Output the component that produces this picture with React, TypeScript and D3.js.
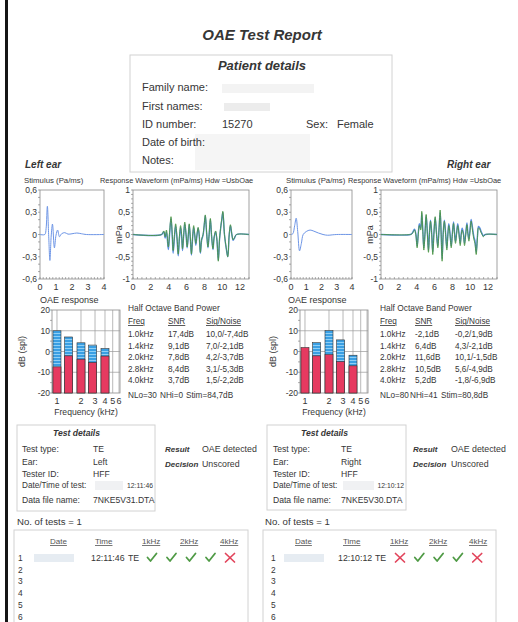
import React from 'react';
import * as d3 from 'd3';

const FONT = "'Liberation Sans', Arial, Helvetica, sans-serif";
const INK = '#363636';

// ---------- tick labels ----------
const stimXTicks = [0, 1, 2, 3, 4];
const stimYTicks = [0.6, 0.3, 0, -0.3, -0.6];
const stimYLabels = ['0,6', '0,3', '0', '-0,3', '-0,6'];
const respXTicks = [0, 2, 4, 6, 8, 10, 12];
const respYTicks = [1, 0.5, 0, -0.5, -1];
const respYLabels = ['1', '0,5', '0', '-0,5', '-1'];
const barYTicks = [20, 10, 0, -10, -20];
const barXTicks = [1, 2, 3, 4, 5, 6];

// ---------- half octave band data ----------
const bandFreqs = [1.0, 1.4, 2.0, 2.8, 4.0];
const bandLabels = ['1.0kHz', '1.4kHz', '2.0kHz', '2.8kHz', '4.0kHz'];
const leftSignal = [10.0, 7.0, 4.2, 3.1, 1.5];
const leftNoise = [-7.4, -2.1, -3.7, -5.3, -2.2];
const leftSNR = [17.4, 9.1, 7.8, 8.4, 3.7];
const rightSignal = [-0.2, 4.3, 10.1, 5.6, -1.8];
const rightNoise = [1.9, -2.1, -1.5, -4.9, -6.9];
const rightSNR = [-2.1, 6.4, 11.6, 10.5, 5.2];
const leftStats = ['NLo=30', 'NHi=0', 'Stim=84,7dB'];
const rightStats = ['NLo=80', 'NHi=41', 'Stim=80,8dB'];

// ---------- test results ----------
const testCols = ['Date', 'Time', '1kHz', '2kHz', '4kHz'];
const leftMarks = [true, true, true, true, false];
const rightMarks = [false, true, true, true, false];
const rowNumbers = [1, 2, 3, 4, 5, 6];

// ---------- waveforms [ms, value] ----------
const stimLeft: [number, number][] = [
  [0, 0], [0.3, 0], [0.38, 0.08], [0.46, 0.38], [0.54, 0.0], [0.62, -0.35], [0.7, -0.02],
  [0.78, 0.14], [0.9, -0.18], [1.0, -0.01], [1.1, 0.06], [1.22, -0.03], [1.35, 0.01],
  [1.55, 0.025], [1.75, 0.005], [2.0, 0.01], [2.3, 0.02], [2.6, 0.01], [2.9, 0], [4, 0],
];
const stimRight: [number, number][] = [
  [0, 0], [0.12, 0.01], [0.24, 0.12], [0.34, 0.22], [0.44, 0.04], [0.56, -0.22], [0.68, -0.12],
  [0.8, 0.0], [1.0, 0.04], [1.25, 0.06], [1.5, 0.045], [1.8, 0.02], [2.1, 0.0], [2.4, -0.01],
  [2.7, -0.005], [3.0, 0], [4, 0],
];
const respLeftGreen: [number, number][] = [
  [0, 0], [3.2, 0], [3.45, 0.08], [3.6, -0.05], [3.75, 0.1], [3.96, -0.28], [4.1, 0.05],
  [4.26, 0.4], [4.4, 0.0], [4.5, -0.36], [4.65, 0.0], [4.78, 0.24], [4.93, -0.05], [5.07, -0.44],
  [5.2, -0.05], [5.33, 0.2], [5.45, 0.0], [5.55, -0.32], [5.68, 0.0], [5.8, 0.28], [5.95, 0.0],
  [6.07, -0.28], [6.2, 0.0], [6.3, 0.24], [6.42, -0.05], [6.55, -0.44], [6.68, -0.05], [6.8, 0.2],
  [6.92, 0.0], [7.04, -0.2], [7.17, 0.0], [7.3, 0.16], [7.42, 0.0], [7.55, -0.4], [7.7, -0.1],
  [7.85, 0.0], [7.97, 0.2], [8.1, 0.44], [8.25, 0.05], [8.4, -0.28], [8.53, 0.0], [8.67, 0.36],
  [8.8, 0.0], [8.96, -0.32], [9.1, -0.05], [9.26, 0.08], [9.4, -0.1], [9.56, -0.6], [9.7, -0.1],
  [9.85, 0.2], [9.95, 0.35], [10.07, 0.52], [10.25, 0.0], [10.45, -0.3], [10.62, -0.5],
  [10.78, 0.0], [10.92, 0.22], [11.08, 0.0], [11.22, -0.12], [11.4, -0.06], [11.6, 0], [13, 0],
];
const respLeftBlue: [number, number][] = [
  [0, 0], [3.2, 0], [3.45, 0.06], [3.6, -0.08], [3.75, 0.06], [3.96, -0.34], [4.1, 0.0],
  [4.26, 0.36], [4.4, -0.05], [4.5, -0.42], [4.65, -0.05], [4.78, 0.2], [4.93, -0.1], [5.07, -0.48],
  [5.2, -0.1], [5.33, 0.16], [5.45, -0.05], [5.55, -0.36], [5.68, -0.02], [5.8, 0.24], [5.95, -0.02],
  [6.07, -0.3], [6.2, -0.02], [6.3, 0.22], [6.42, -0.08], [6.55, -0.46], [6.68, -0.08], [6.8, 0.16],
  [6.92, -0.02], [7.04, -0.24], [7.17, -0.02], [7.3, 0.14], [7.42, -0.02], [7.55, -0.42], [7.7, -0.12],
  [7.85, -0.02], [7.97, 0.18], [8.1, 0.42], [8.25, 0.03], [8.4, -0.3], [8.53, -0.02], [8.67, 0.34],
  [8.8, -0.02], [8.96, -0.34], [9.1, -0.06], [9.26, 0.06], [9.4, -0.12], [9.56, -0.58], [9.7, -0.1],
  [9.85, 0.18], [9.95, 0.33], [10.07, 0.5], [10.25, 0.0], [10.45, -0.32], [10.62, -0.5],
  [10.78, -0.02], [10.92, 0.2], [11.08, 0.0], [11.22, -0.13], [11.4, -0.07], [11.6, 0], [13, 0],
];
const respRightGreen: [number, number][] = [
  [0, 0], [3.3, 0], [3.5, 0.02], [3.75, 0.1], [3.9, 0.0], [4.05, -0.3], [4.18, 0.0], [4.3, 0.2],
  [4.45, 0.1], [4.57, 0.52], [4.7, 0.0], [4.8, -0.35], [4.93, 0.0], [5.06, 0.45], [5.2, 0.0],
  [5.32, -0.4], [5.43, 0.0], [5.55, 0.3], [5.68, 0.0], [5.8, -0.45], [5.93, 0.0], [6.07, 0.4],
  [6.22, 0.0], [6.37, -0.3], [6.5, 0.1], [6.63, 0.55], [6.74, 0.0], [6.85, -0.6], [6.97, 0.0],
  [7.1, 0.3], [7.24, 0.0], [7.38, -0.35], [7.5, 0.0], [7.6, 0.2], [7.73, 0.0], [7.87, -0.3],
  [8.0, 0.0], [8.13, 0.25], [8.24, 0.0], [8.35, -0.2], [8.47, 0.0], [8.6, 0.2], [8.74, 0.0],
  [8.88, -0.25], [9.0, 0.0], [9.1, 0.1], [9.23, 0.0], [9.36, -0.25], [9.5, 0.0], [9.63, 0.22],
  [9.74, 0.0], [9.85, -0.15], [9.97, 0.05], [10.1, 0.3], [10.25, 0.1], [10.4, -0.1], [10.53, -0.2],
  [10.67, -0.45], [10.8, -0.1], [10.93, 0.15], [11.07, 0.12], [11.2, 0.05], [11.33, 0.0],
  [11.46, -0.05], [11.7, 0], [13, 0],
];
const respRightBlue: [number, number][] = [
  [0, 0], [3.3, 0], [3.5, 0.03], [3.75, 0.12], [3.9, 0.02], [4.05, -0.26], [4.18, 0.04], [4.3, 0.24],
  [4.45, 0.14], [4.57, 0.48], [4.7, 0.04], [4.8, -0.3], [4.93, 0.04], [5.06, 0.42], [5.2, 0.04],
  [5.32, -0.36], [5.43, 0.04], [5.55, 0.32], [5.68, 0.04], [5.8, -0.4], [5.93, 0.04], [6.07, 0.38],
  [6.22, 0.04], [6.37, -0.26], [6.5, 0.12], [6.63, 0.5], [6.74, 0.04], [6.85, -0.55], [6.97, 0.04],
  [7.1, 0.32], [7.24, 0.04], [7.38, -0.3], [7.5, 0.04], [7.6, 0.24], [7.73, 0.04], [7.87, -0.26],
  [8.0, 0.04], [8.13, 0.28], [8.24, 0.04], [8.35, -0.16], [8.47, 0.04], [8.6, 0.24], [8.74, 0.04],
  [8.88, -0.2], [9.0, 0.04], [9.1, 0.14], [9.23, 0.04], [9.36, -0.2], [9.5, 0.04], [9.63, 0.26],
  [9.74, 0.04], [9.85, -0.1], [9.97, 0.1], [10.1, 0.34], [10.25, 0.16], [10.4, -0.04], [10.53, -0.14],
  [10.67, -0.4], [10.8, -0.06], [10.93, 0.18], [11.07, 0.15], [11.2, 0.08], [11.33, 0.02],
  [11.46, -0.03], [11.7, 0], [13, 0],
];

const fmt1 = (v: number) => v.toFixed(1).replace('.', ',');

type EarCfg = any;

const LEFT: EarCfg = {
  stim: { x0: 40, x1: 104, y0: 190, y1: 279 },
  resp: { x0: 133, x1: 249, y0: 190, y1: 279 },
  titleStimX: 24, titleRespX: 100, titleY: 183, mPaX: 122,
  bar: { x0: 52, x1: 120, y0: 310, y1: 393 },
  oaeTitleX: 40, dbX: 25,
  table: { x: 128, snrX: 168, snX: 206, statX: [128, 160, 186] },
  td: { x: 17, y: 425, w: 138, h: 86, titleX: 53, labelX: 22, valX: 93, timeEndX: 153, resX: 165, resValX: 202,
        ear: 'Left', time: '12:11:46', file: '7NKE5V31.DTA' },
  tests: { noX: 17, x: 14, w: 234, cols: [50, 95, 142, 180, 220], numX: 18, timeX: 91, teX: 128,
           markX0: 152, markDx: 19.5, time: '12:11:46', dateX: 34 },
};
const RIGHT: EarCfg = {
  stim: { x0: 291, x1: 352, y0: 190, y1: 279 },
  resp: { x0: 381, x1: 497, y0: 190, y1: 279 },
  titleStimX: 286, titleRespX: 348, titleY: 183, mPaX: 373,
  bar: { x0: 300, x1: 368, y0: 310, y1: 393 },
  oaeTitleX: 288, dbX: 276,
  table: { x: 380, snrX: 415, snX: 455, statX: [380, 410, 441] },
  td: { x: 267, y: 425, w: 139, h: 85, titleX: 301, labelX: 273, valX: 341, timeEndX: 404, resX: 413, resValX: 451,
        ear: 'Right', time: '12:10:12', file: '7NKE5V30.DTA' },
  tests: { noX: 265, x: 263, w: 233, cols: [295, 343, 390, 429, 469], numX: 271, timeX: 338, teX: 375,
           markX0: 400, markDx: 19.3, time: '12:10:12', dateX: 284 },
};

function Check({ x, y }: { x: number; y: number }) {
  return <path d={`M${x - 4.5},${y - 0.5} L${x - 1.5},${y + 3} L${x + 4.5},${y - 4.5}`} fill="none" stroke="#4f9a45" strokeWidth={1.8} strokeLinecap="round" strokeLinejoin="round" />;
}
function Cross({ x, y }: { x: number; y: number }) {
  return (
    <g stroke="#e2455c" strokeWidth={1.7} strokeLinecap="round">
      <line x1={x - 4.5} y1={y - 4.5} x2={x + 4.5} y2={y + 4} />
      <line x1={x + 4.5} y1={y - 4.5} x2={x - 4.5} y2={y + 4} />
    </g>
  );
}

function Ear({ c, stim, respG, respB, signal, noise, snr, stats, marks }: any) {
  const t = { fontFamily: FONT, fill: INK };
  const sx = d3.scaleLinear().domain([0, 4]).range([c.stim.x0, c.stim.x1]);
  const sy = d3.scaleLinear().domain([-0.6, 0.6]).range([c.stim.y1, c.stim.y0]);
  const sLine = d3.line<[number, number]>().x(d => sx(d[0])).y(d => sy(d[1])).curve(d3.curveCatmullRom.alpha(0.5));
  const rx = d3.scaleLinear().domain([0, 13]).range([c.resp.x0, c.resp.x1]);
  const ry = d3.scaleLinear().domain([-1, 1]).range([c.resp.y1, c.resp.y0]);
  const rLine = d3.line<[number, number]>().x(d => rx(d[0])).y(d => ry(d[1])).curve(d3.curveCatmullRom.alpha(0.5));
  const bx = d3.scaleLog().domain([0.866, 6.17]).range([c.bar.x0, c.bar.x1]);
  const by = d3.scaleLinear().domain([-20, 20]).range([c.bar.y1, c.bar.y0]);
  const half = Math.pow(2, 1 / 6);

  const stimMinorX = d3.range(0, 4.01, 0.2);
  const stimMinorY = d3.range(-0.6, 0.61, 0.1);
  const respMinorX = d3.range(0, 13.01, 0.5);
  const respMinorY = d3.range(-1, 1.01, 0.1);

  const rowsY = [337, 348.5, 360, 371.5, 383];
  const tdRows = [
    ['Test type:', 'TE', 452], ['Ear:', c.td.ear, 465], ['Tester ID:', 'HFF', 477],
  ];
  const TF = 8.2;

  return (
    <g>
      <text x={c.titleStimX} y={c.titleY} fontSize={7.8} {...t}>Stimulus (Pa/ms)</text>
      <text x={c.titleRespX} y={c.titleY} fontSize={7.4} {...t}>Response Waveform (mPa/ms) Hdw =UsbOae</text>

      {/* stimulus plot */}
      <rect x={c.stim.x0} y={c.stim.y0} width={c.stim.x1 - c.stim.x0} height={c.stim.y1 - c.stim.y0} fill="#fff" stroke="#8a8a8a" strokeWidth={0.8} />
      {stimMinorX.map((v, i) => <line key={'smx' + i} x1={sx(v)} x2={sx(v)} y1={c.stim.y1} y2={c.stim.y1 - 2} stroke="#777" strokeWidth={0.6} />)}
      {stimMinorY.map((v, i) => <line key={'smy' + i} x1={c.stim.x0} x2={c.stim.x0 - 2} y1={sy(v)} y2={sy(v)} stroke="#777" strokeWidth={0.6} />)}
      {stimXTicks.map(v => <text key={'sxt' + v} x={sx(v)} y={c.stim.y1 + 11} fontSize={9} textAnchor="middle" {...t}>{v}</text>)}
      {stimYTicks.map((v, i) => <text key={'syt' + v} x={c.stim.x0 - 3} y={sy(v) + 3} fontSize={8.5} textAnchor="end" {...t}>{stimYLabels[i]}</text>)}
      <path d={sLine(stim) || ''} fill="none" stroke="#6d95e6" strokeWidth={1} />

      {/* response plot */}
      <rect x={c.resp.x0} y={c.resp.y0} width={c.resp.x1 - c.resp.x0} height={c.resp.y1 - c.resp.y0} fill="#fff" stroke="#8a8a8a" strokeWidth={0.8} />
      {respMinorX.map((v, i) => <line key={'rmx' + i} x1={rx(v)} x2={rx(v)} y1={c.resp.y1} y2={c.resp.y1 - 2} stroke="#777" strokeWidth={0.6} />)}
      {respMinorY.map((v, i) => <line key={'rmy' + i} x1={c.resp.x0} x2={c.resp.x0 - 2} y1={ry(v)} y2={ry(v)} stroke="#777" strokeWidth={0.6} />)}
      {respXTicks.map(v => <text key={'rxt' + v} x={rx(v)} y={c.resp.y1 + 11} fontSize={9} textAnchor="middle" {...t}>{v}</text>)}
      {respYTicks.map((v, i) => <text key={'ryt' + v} x={c.resp.x0 - 3} y={ry(v) + 3} fontSize={8.5} textAnchor="end" {...t}>{respYLabels[i]}</text>)}
      <text transform={`translate(${c.mPaX},${ry(0)}) rotate(-90)`} fontSize={9} textAnchor="middle" {...t}>mPa</text>
      <path d={rLine(respB) || ''} fill="none" stroke="#5a8de2" strokeWidth={1.4} />
      <path d={rLine(respG) || ''} fill="none" stroke="#4a9440" strokeWidth={0.9} />

      {/* OAE response bars */}
      <text x={c.oaeTitleX} y={303} fontSize={9} {...t}>OAE response</text>
      <rect x={c.bar.x0} y={c.bar.y0} width={c.bar.x1 - c.bar.x0} height={c.bar.y1 - c.bar.y0} fill="#fff" stroke="#8a8a8a" strokeWidth={0.8} />
      {barXTicks.map(v => <line key={'bgx' + v} x1={bx(v)} x2={bx(v)} y1={c.bar.y0} y2={c.bar.y1} stroke="#9a9a9a" strokeWidth={0.7} />)}
      {[10, 0, -10].map(v => <line key={'bgy' + v} x1={c.bar.x0} x2={c.bar.x1} y1={by(v)} y2={by(v)} stroke="#9a9a9a" strokeWidth={0.7} />)}
      {d3.range(-20, 20.1, 5).map(v => <line key={'bmy' + v} x1={c.bar.x0} x2={c.bar.x0 - 2} y1={by(v)} y2={by(v)} stroke="#777" strokeWidth={0.6} />)}
      {bandFreqs.map((f, i) => (
        <rect key={'bs' + i} x={bx(f / half)} y={by(signal[i])} width={bx(f * half) - bx(f / half)} height={by(-20) - by(signal[i])} fill="url(#blueStripe)" stroke="#333" strokeWidth={0.6} />
      ))}
      {bandFreqs.map((f, i) => (
        <rect key={'bn' + i} x={bx(f / half)} y={by(noise[i])} width={bx(f * half) - bx(f / half)} height={by(-20) - by(noise[i])} fill="#e63a60" stroke="#333" strokeWidth={0.6} />
      ))}
      {barXTicks.map(v => <text key={'bxt' + v} x={bx(v)} y={c.bar.y1 + 11} fontSize={9} textAnchor="middle" {...t}>{v}</text>)}
      {barYTicks.map(v => <text key={'byt' + v} x={c.bar.x0 - 2} y={by(v) + 3} fontSize={8.5} textAnchor="end" {...t}>{v}</text>)}
      <text transform={`translate(${c.dbX},${by(0)}) rotate(-90)`} fontSize={9} textAnchor="middle" {...t}>dB (spl)</text>
      <text x={(c.bar.x0 + c.bar.x1) / 2} y={c.bar.y1 + 22} fontSize={8.6} textAnchor="middle" {...t}>Frequency (kHz)</text>

      {/* band table */}
      <text x={c.table.x} y={311} fontSize={8.4} {...t}>Half Octave Band Power</text>
      <text x={c.table.x} y={324} fontSize={TF} style={{ textDecoration: 'underline' }} {...t}>Freq</text>
      <text x={c.table.snrX} y={324} fontSize={TF} style={{ textDecoration: 'underline' }} {...t}>SNR</text>
      <text x={c.table.snX} y={324} fontSize={TF} style={{ textDecoration: 'underline' }} {...t}>Sig/Noise</text>
      {bandLabels.map((l, i) => (
        <g key={'row' + i}>
          <text x={c.table.x} y={rowsY[i]} fontSize={TF} {...t}>{l}</text>
          <text x={c.table.snrX} y={rowsY[i]} fontSize={TF} {...t}>{fmt1(snr[i])}dB</text>
          <text x={c.table.snX} y={rowsY[i]} fontSize={TF} {...t}>{fmt1(signal[i])}/{fmt1(noise[i])}dB</text>
        </g>
      ))}
      {stats.map((s: string, i: number) => <text key={'st' + i} x={c.table.statX[i]} y={398} fontSize={8.2} {...t}>{s}</text>)}

      {/* test details */}
      <rect x={c.td.x} y={c.td.y} width={c.td.w} height={c.td.h} fill="#fff" stroke="#d2d2d2" strokeWidth={1} />
      <text x={c.td.titleX} y={436} fontSize={8.6} fontWeight="bold" fontStyle="italic" {...t}>Test details</text>
      {tdRows.map((r: any) => (
        <g key={r[0]}>
          <text x={c.td.labelX} y={r[2]} fontSize={8.6} {...t}>{r[0]}</text>
          <text x={c.td.valX} y={r[2]} fontSize={8.6} {...t}>{r[1]}</text>
        </g>
      ))}
      <text x={c.td.labelX} y={488} fontSize={8.2} {...t}>Date/Time of test:</text>
      <rect x={c.td.valX + 2} y={481} width={c.td.timeEndX - c.td.valX - 32} height={9} fill="#eef0f2" opacity={0.9} />
      <text x={c.td.timeEndX} y={488} fontSize={6.8} textAnchor="end" {...t}>{c.td.time}</text>
      <text x={c.td.labelX} y={503} fontSize={8.6} {...t}>Data file name:</text>
      <text x={c.td.valX} y={503} fontSize={8.6} {...t}>{c.td.file}</text>
      <text x={c.td.resX} y={452} fontSize={8} fontWeight="bold" fontStyle="italic" {...t}>Result</text>
      <text x={c.td.resValX} y={452} fontSize={8.8} {...t}>OAE detected</text>
      <text x={c.td.resX} y={467} fontSize={8} fontWeight="bold" fontStyle="italic" {...t}>Decision</text>
      <text x={c.td.resValX} y={467} fontSize={8.8} {...t}>Unscored</text>

      {/* tests table */}
      <text x={c.tests.noX} y={525} fontSize={9.6} {...t}>No. of tests = 1</text>
      <rect x={c.tests.x} y={530} width={c.tests.w} height={100} fill="#fff" stroke="#d2d2d2" strokeWidth={1} />
      {testCols.map((h, i) => (
        <text key={h} x={c.tests.cols[i]} y={544} fontSize={8} style={{ textDecoration: 'underline' }} fill="#555" fontFamily={FONT}>{h}</text>
      ))}
      {rowNumbers.map((n, i) => <text key={'n' + n} x={c.tests.numX} y={561 + i * 11.7} fontSize={8.4} {...t}>{n}</text>)}
      <rect x={c.tests.dateX} y={554} width={40} height={8} fill="#e6ecf2" />
      <text x={c.tests.timeX} y={561} fontSize={8.8} {...t}>{c.tests.time}</text>
      <text x={c.tests.teX} y={561} fontSize={8.8} {...t}>TE</text>
      {marks.map((m: boolean, i: number) =>
        m ? <Check key={'m' + i} x={c.tests.markX0 + i * c.tests.markDx} y={558} /> : <Cross key={'m' + i} x={c.tests.markX0 + i * c.tests.markDx} y={558} />
      )}
    </g>
  );
}

export default function App() {
  const t = { fontFamily: FONT, fill: INK };
  return (
    <svg width={518} height={622} style={{ position: 'absolute', left: 0, top: 0, background: '#fff' }}>
      <defs>
        <pattern id="blueStripe" width="4" height="3" patternUnits="userSpaceOnUse">
          <rect width="4" height="3" fill="#3a9fe3" />
          <rect width="4" height="1" fill="#8ecff6" />
        </pattern>
      </defs>
      <rect x={0} y={0} width={518} height={622} fill="#fff" />
      <rect x={5} y={0} width={3} height={622} fill="#151515" />

      <text x={262} y={40} fontSize={15} fontWeight="bold" fontStyle="italic" textAnchor="middle" {...t}>OAE Test Report</text>

      {/* patient details */}
      <rect x={130} y={55} width={262} height={117} fill="#fff" stroke="#d2d2d2" strokeWidth={1} />
      <text x={262} y={70} fontSize={13} fontWeight="bold" fontStyle="italic" textAnchor="middle" {...t}>Patient details</text>
      <rect x={222} y={84} width={92} height={9} fill="#f3f3f3" />
      <rect x={224} y={103} width={46} height={8} fill="#ececec" />
      <rect x={195} y={134} width={115} height={36} fill="#f5f5f5" />
      <text x={142} y={91} fontSize={11} {...t}>Family name:</text>
      <text x={142} y={110} fontSize={11} {...t}>First names:</text>
      <text x={142} y={128} fontSize={11} {...t}>ID number:</text>
      <text x={222} y={128} fontSize={11} {...t}>15270</text>
      <text x={306} y={128} fontSize={11} {...t}>Sex:</text>
      <text x={337} y={128} fontSize={11} {...t}>Female</text>
      <text x={142} y={146} fontSize={11} {...t}>Date of birth:</text>
      <text x={142} y={164} fontSize={11} {...t}>Notes:</text>

      <text x={25} y={168} fontSize={10} fontWeight="bold" fontStyle="italic" {...t}>Left ear</text>
      <text x={447} y={168} fontSize={10} fontWeight="bold" fontStyle="italic" {...t}>Right ear</text>

      <Ear c={LEFT} stim={stimLeft} respG={respLeftGreen} respB={respLeftBlue} signal={leftSignal} noise={leftNoise} snr={leftSNR} stats={leftStats} marks={leftMarks} />
      <Ear c={RIGHT} stim={stimRight} respG={respRightGreen} respB={respRightBlue} signal={rightSignal} noise={rightNoise} snr={rightSNR} stats={rightStats} marks={rightMarks} />
    </svg>
  );
}
